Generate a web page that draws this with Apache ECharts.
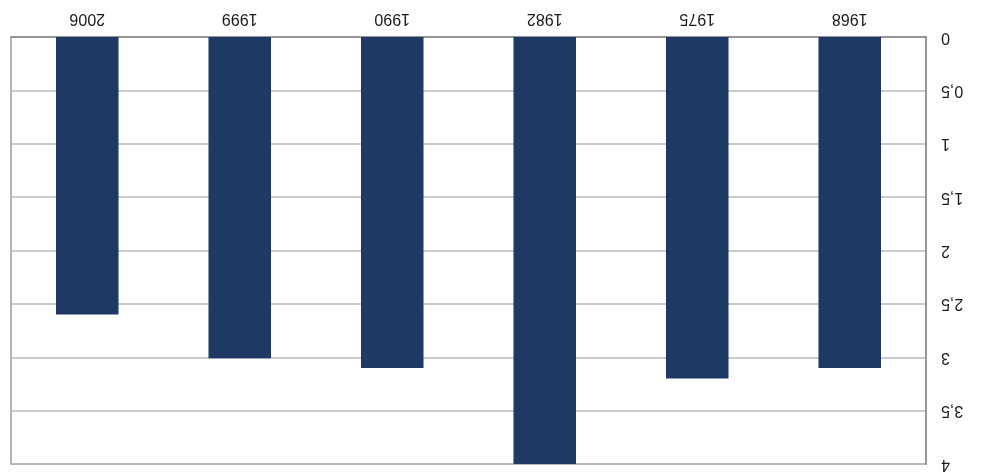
<!DOCTYPE html>
<html>
<head>
<meta charset="utf-8">
<script src="https://cdn.jsdelivr.net/npm/echarts@6/dist/echarts.min.js"></script>
<style>
	html, body { margin: 0; padding: 0; background: #fff; }
	#chart { width: 981px; height: 475px; }
</style>
</head>
<body>
<div id="chart"></div>
<script>
var years = ["1968", "1975", "1982", "1990", "1999", "2006"];
var values = [3.1, 3.2, 4.0, 3.1, 3.01, 2.6];
var yMin = 0, yMax = 4, yStep = 0.5;

var myChart = echarts.init(document.getElementById("chart"), null, { renderer: "canvas" });

var option = {
	animation: false,
	grid: {
		left: 11,
		right: 55,
		top: 37,
		bottom: 11,
		show: true,
		borderColor: "#9a9a9a",
		borderWidth: 1.5
	},
	xAxis: {
		type: "category",
		data: years,
		inverse: true,
		position: "top",
		axisLine: { show: true, lineStyle: { color: "#8c8c8c", width: 1.5 } },
		axisTick: { show: false },
		axisLabel: {
			rotate: 180,
			margin: 11,
			color: "#1a1a1a",
			fontFamily: "Liberation Sans, Arial, sans-serif",
			fontSize: 16
		}
	},
	yAxis: {
		type: "value",
		min: yMin,
		max: yMax,
		interval: yStep,
		inverse: true,
		position: "right",
		axisLine: { show: true, lineStyle: { color: "#8c8c8c", width: 1.5 } },
		axisTick: { show: false },
		splitLine: { show: true, lineStyle: { color: "#b8b8b8", width: 1.5 } },
		axisLabel: {
			rotate: 180,
			margin: 15,
			color: "#1a1a1a",
			fontFamily: "Liberation Sans, Arial, sans-serif",
			fontSize: 16,
			formatter: function (v) {
				return String(v).replace(".", ",");
			}
		}
	},
	series: [{
		type: "bar",
		data: values,
		barWidth: "41%",
		itemStyle: { color: "#1e3a64" }
	}]
};

myChart.setOption(option);
</script>
</body>
</html>
